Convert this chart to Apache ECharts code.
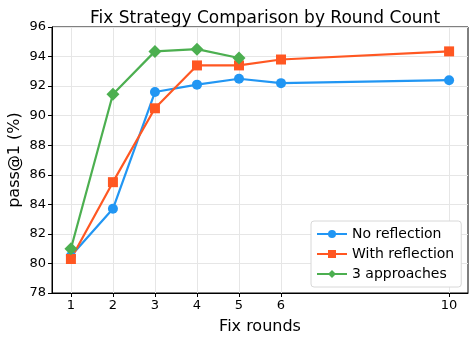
<!DOCTYPE html>
<html>
<head>
<meta charset="utf-8">
<script src="https://cdn.jsdelivr.net/npm/echarts@6/dist/echarts.min.js"></script>
<style>
  html, body { margin: 0; padding: 0; background: #fff; }
  #chart { width: 476px; height: 341px; }
</style>
</head>
<body>
<div id="chart"></div>
<script>
// data
let rounds = [1, 2, 3, 4, 5, 6, 10]
let noReflection = [80.5, 83.7, 91.6, 92.1, 92.5, 92.2, 92.4]
let withReflection = [80.3, 85.5, 90.5, 93.4, 93.4, 93.8, 94.35]
let approachRounds = [1, 2, 3, 4, 5]
let threeApproaches = [81.0, 91.45, 94.35, 94.5, 93.9]

let font = 'DejaVu Sans'

function pairs(xs, ys) {
    return xs.map((x, i) => [x, ys[i]])
}

let chart = echarts.init(document.getElementById('chart'))

let mkSeries = function(name, xs, ys, color, symbol, size) {
    return {
        name: name,
        type: 'line',
        data: pairs(xs, ys),
        symbol: symbol,
        symbolSize: size,
        itemStyle: { color: color },
        lineStyle: { color: color, width: 2.2 },
        emphasis: { disabled: true },
        z: 3
    }
}

let option = {
    animation: false,
    backgroundColor: '#fff',
    textStyle: { fontFamily: font },
    title: {
        text: 'Fix Strategy Comparison by Round Count',
        left: 260,
        textAlign: 'center',
        top: 5,
        textStyle: { fontFamily: font, fontSize: 17, fontWeight: 'normal', color: '#000' }
    },
    grid: {
        left: 52, right: 8, top: 27, bottom: 48,
        outerBoundsMode: 'none',
        containLabel: false,
        show: true, borderColor: '#000', borderWidth: 1
    },
    legend: {
        orient: 'vertical',
        left: 311,
        top: 221,
        itemWidth: 30,
        itemHeight: 10,
        itemGap: 4,
        padding: [5, 7, 5, 5],
        backgroundColor: '#fff',
        borderColor: '#d8d8d8',
        borderWidth: 1,
        borderRadius: 3,
        textStyle: { fontFamily: font, fontSize: 14, color: '#000', lineHeight: 16 },
        data: ['No reflection', 'With reflection', '3 approaches']
    },
    xAxis: {
        type: 'value',
        min: 0.55,
        max: 10.45,
        name: 'Fix rounds',
        nameLocation: 'middle',
        nameGap: 26,
        nameMoveOverlap: false,
        nameTextStyle: { fontFamily: font, fontSize: 16, color: '#000' },
        axisLine: { show: true, onZero: false, lineStyle: { color: '#000', width: 1 } },
        axisTick: { show: true, customValues: rounds, length: 4, lineStyle: { color: '#000' } },
        axisLabel: { customValues: rounds, fontFamily: font, fontSize: 13, color: '#000', margin: 6 },
        splitLine: { show: true, lineStyle: { color: '#e6e6e6', width: 1 } }
    },
    yAxis: {
        type: 'value',
        min: 78,
        max: 96,
        interval: 2,
        name: 'pass@1 (%)',
        nameLocation: 'middle',
        nameGap: 29,
        nameMoveOverlap: false,
        nameRotate: 90,
        nameTextStyle: { fontFamily: font, fontSize: 16, color: '#000' },
        axisLine: { show: true, lineStyle: { color: '#000', width: 1 } },
        axisTick: { show: true, inside: false, length: 4, lineStyle: { color: '#000' } },
        axisLabel: { fontFamily: font, fontSize: 13, color: '#000', margin: 6 },
        splitLine: { show: true, lineStyle: { color: '#e6e6e6', width: 1 } }
    },
    series: [
        mkSeries('No reflection', rounds, noReflection, '#2196F3', 'circle', 10),
        mkSeries('With reflection', rounds, withReflection, '#FF5722', 'rect', 10),
        mkSeries('3 approaches', approachRounds, threeApproaches, '#4CAF50', 'diamond', 13)
    ]
}

chart.setOption(option)
</script>
</body>
</html>
